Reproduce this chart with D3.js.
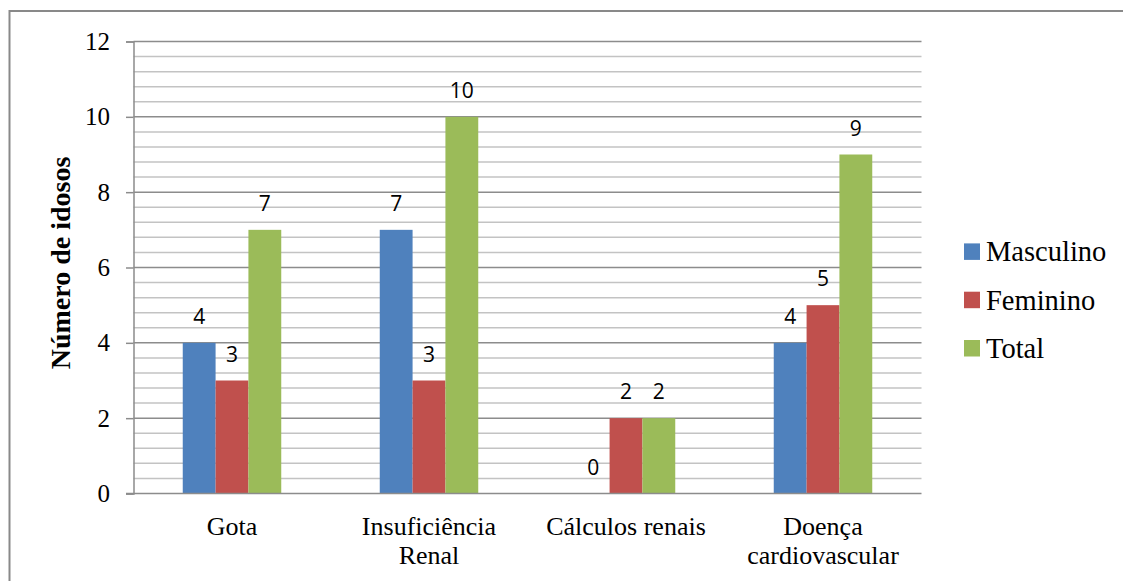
<!DOCTYPE html>
<html>
<head>
<meta charset="utf-8">
<script src="https://cdn.jsdelivr.net/npm/d3@7"></script>
<style>
  html, body { margin: 0; padding: 0; background: #fff; }
  svg { display: block; }
</style>
</head>
<body>
<svg id="chart" width="1123" height="581"></svg>
<script>
// Conditions reported per sex
const categories = [["Gota"], ["Insuficiência", "Renal"], ["Cálculos renais"], ["Doença", "cardiovascular"]];
const seriesNames = ["Masculino", "Feminino", "Total"];
const masculino = [4, 7, 0, 4];
const feminino = [3, 3, 2, 5];
const total = [7, 10, 2, 9];
const seriesColors = ["#4F81BD", "#C0504D", "#9BBB59"];
const yTicks = [0, 2, 4, 6, 8, 10, 12];
const yTitle = "Número de idosos";

const seriesValues = [masculino, feminino, total];
const catKeys = categories.map(c => c.join(" "));

const svg = d3.select("#chart");
const serifFont = "'Liberation Serif', 'Times New Roman', serif";
const sansFont = "'Open Sans', 'Noto Sans', sans-serif";

// Outer chart frame
svg.append("rect")
  .attr("x", 9.5).attr("y", 11)
  .attr("width", 1140).attr("height", 600)
  .attr("fill", "none").attr("stroke", "#898989").attr("stroke-width", 2);

const plot = { left: 133.5, right: 921.5, top: 41.5, bottom: 493.5 };

const x = d3.scaleBand().domain(catKeys).range([plot.left, plot.right]).padding(0);
const xs = d3.scaleBand().domain(seriesNames)
  .range([x.bandwidth() * 0.25, x.bandwidth() * 0.75]).padding(0);
const y = d3.scaleLinear().domain([0, 12]).range([plot.bottom, plot.top]);

// Minor gridlines every 0.4
const minor = d3.range(0, 31).map(i => i * 0.4).filter(v => v <= 12 && Math.abs(v / 2 - Math.round(v / 2)) > 1e-6);
svg.append("g").selectAll("line").data(minor).join("line")
  .attr("x1", plot.left).attr("x2", plot.right)
  .attr("y1", d => y(d)).attr("y2", d => y(d))
  .attr("stroke", "#c3c3c3").attr("stroke-width", 1.5);

// Major gridlines
svg.append("g").selectAll("line").data(yTicks.filter(v => v > 0)).join("line")
  .attr("x1", plot.left).attr("x2", plot.right)
  .attr("y1", d => y(d)).attr("y2", d => y(d))
  .attr("stroke", "#8c8c8c").attr("stroke-width", 1.5);

// Y axis with tick labels
const yAxis = svg.append("g")
  .attr("transform", `translate(${plot.left},0)`)
  .call(d3.axisLeft(y).tickValues(yTicks).tickSize(7.5).tickPadding(16).tickFormat(d3.format("d")));
yAxis.attr("font-family", serifFont).attr("font-size", 25);
yAxis.select(".domain").attr("stroke", "#8c8c8c").attr("stroke-width", 1.5);
yAxis.selectAll(".tick line").attr("stroke", "#8c8c8c").attr("stroke-width", 1.5);
yAxis.selectAll(".tick text").attr("fill", "#000");

// Bars
const groups = svg.append("g").selectAll("g").data(catKeys).join("g")
  .attr("transform", d => `translate(${x(d)},0)`);
groups.selectAll("rect")
  .data((d, i) => seriesNames.map((s, j) => ({ s, j, v: seriesValues[j][i] })))
  .join("rect")
  .attr("x", d => xs(d.s))
  .attr("width", xs.bandwidth())
  .attr("y", d => y(d.v))
  .attr("height", d => y(0) - y(d.v))
  .attr("fill", d => seriesColors[d.j]);

// Value labels
groups.selectAll("text")
  .data((d, i) => seriesNames.map((s, j) => ({ s, j, v: seriesValues[j][i] })))
  .join("text")
  .attr("x", d => xs(d.s) + xs.bandwidth() / 2)
  .attr("y", d => y(d.v) - 19)
  .attr("text-anchor", "middle")
  .attr("font-family", sansFont).attr("font-size", 21).attr("fill", "#000")
  .text(d => d.v);

// X axis line
svg.append("line")
  .attr("x1", plot.left - 7.5).attr("x2", plot.right)
  .attr("y1", y(0)).attr("y2", y(0))
  .attr("stroke", "#8c8c8c").attr("stroke-width", 1.5);

// Category labels
const catLabels = svg.append("g").selectAll("text").data(categories).join("text")
  .attr("x", (d, i) => x(catKeys[i]) + x.bandwidth() / 2)
  .attr("y", 535)
  .attr("text-anchor", "middle")
  .attr("font-family", serifFont).attr("font-size", 26).attr("fill", "#000");
catLabels.selectAll("tspan").data(d => d).join("tspan")
  .attr("x", function () { return d3.select(this.parentNode).attr("x"); })
  .attr("dy", (d, i) => i === 0 ? 0 : 29)
  .text(d => d);

// Y axis title
svg.append("text")
  .attr("transform", "translate(70,263) rotate(-90)")
  .attr("text-anchor", "middle")
  .attr("font-family", serifFont).attr("font-size", 28).attr("font-weight", "bold")
  .attr("fill", "#000")
  .text(yTitle);

// Legend
const legend = svg.append("g").selectAll("g").data(seriesNames).join("g")
  .attr("transform", (d, i) => `translate(964,${251.7 + i * 48.3})`);
legend.append("rect")
  .attr("x", 0).attr("y", -8.3).attr("width", 16).attr("height", 16.5)
  .attr("fill", (d, i) => seriesColors[i]);
legend.append("text")
  .attr("x", 22).attr("y", 9.5)
  .attr("font-family", serifFont).attr("font-size", 28.5).attr("fill", "#000")
  .text(d => d);
</script>
</body>
</html>
